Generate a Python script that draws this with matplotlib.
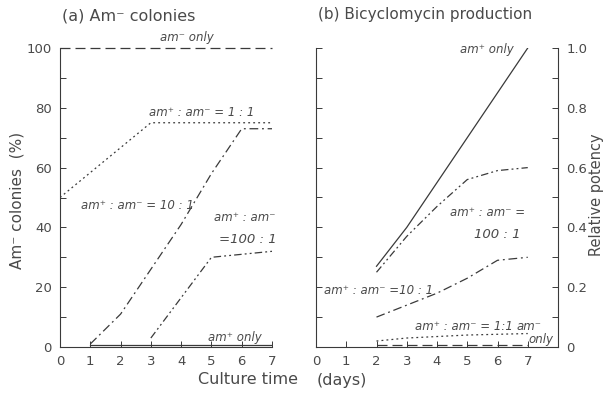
import matplotlib
matplotlib.use("Agg")
import matplotlib.pyplot as plt
from matplotlib.ticker import MultipleLocator

plt.rcParams['font.family'] = ['DejaVu Sans']

# ---- Data: panel (a) Am- colonies (%) ----
a_amminus_x = [0, 7]
a_amminus_y = [100, 100]
a_r1_x = [0, 3, 7]
a_r1_y = [50, 75, 75]
a_r10_x = [1, 2, 3, 4, 5, 6, 7]
a_r10_y = [1, 11, 26, 41, 58, 73, 73]
a_r100_x = [3, 5, 7]
a_r100_y = [3, 30, 32]
a_amplus_x = [1, 7]
a_amplus_y = [0.8, 0.8]

# ---- Data: panel (b) relative potency ----
b_amplus_x = [2, 3, 4, 5, 6, 7]
b_amplus_y = [0.27, 0.40, 0.55, 0.70, 0.85, 1.00]
b_r100_x = [2, 3, 4, 5, 6, 7]
b_r100_y = [0.25, 0.37, 0.47, 0.56, 0.59, 0.60]
b_r10_x = [2, 3, 4, 5, 6, 7]
b_r10_y = [0.10, 0.14, 0.18, 0.23, 0.29, 0.30]
b_r1_x = [2, 3, 5, 7]
b_r1_y = [0.02, 0.03, 0.04, 0.045]
b_amminus_x = [2, 7]
b_amminus_y = [0.006, 0.006]

x_ticks = [0, 1, 2, 3, 4, 5, 6, 7]

LC = '#3a3a3a'
TC = '#4a4a4a'
LW = 0.9
ls_amminus = (0, (8, 4))
ls_r1 = (0, (1.5, 2.5))
ls_r10 = (0, (7, 3, 1.5, 3))
ls_r100 = (0, (6, 2.5, 1.5, 2.5, 1.5, 2.5))

AFS = 8.5   # annotation font size
TFS = 9.5   # tick font size

fig = plt.figure(figsize=(6.06, 3.93), dpi=100)
W, H = 606, 393

def px_axes(x0, x1, y0, y1):
    return fig.add_axes([x0 / W, 1 - y1 / H, (x1 - x0) / W, (y1 - y0) / H])

def ftext(x, y, s, **kw):
    kw.setdefault('color', TC)
    kw.setdefault('ha', 'center')
    kw.setdefault('va', 'center')
    fig.text(x / W, 1 - y / H, s, **kw)

# ---------------- Panel (a) ----------------
axa = px_axes(60, 272, 48, 347)
axa.set_xlim(0, 7)
axa.set_ylim(0, 100)
axa.plot(a_amminus_x, a_amminus_y, color=LC, lw=LW, ls=ls_amminus, clip_on=False)
axa.plot(a_r1_x, a_r1_y, color=LC, lw=LW, ls=ls_r1)
axa.plot(a_r10_x, a_r10_y, color=LC, lw=LW, ls=ls_r10)
axa.plot(a_r100_x, a_r100_y, color=LC, lw=LW, ls=ls_r100)
axa.plot(a_amplus_x, a_amplus_y, color=LC, lw=LW)
for s in ['top', 'right']:
    axa.spines[s].set_visible(False)
for s in ['left', 'bottom']:
    axa.spines[s].set_color(LC)
    axa.spines[s].set_linewidth(0.8)
axa.set_xticks(x_ticks)
axa.yaxis.set_major_locator(MultipleLocator(20))
axa.yaxis.set_minor_locator(MultipleLocator(10))
axa.tick_params(direction='in', colors=LC, labelcolor=TC, labelsize=TFS, length=4, width=0.7)
axa.tick_params(which='minor', direction='in', length=4, width=0.7, colors=LC)
axa.tick_params(axis='x', pad=6)
axa.tick_params(axis='y', pad=6)

ftext(17, 200, 'Am⁻ colonies  (%)', fontsize=11, rotation=90)
ftext(62, 16, '(a) Am⁻ colonies', fontsize=11.5, ha='left')
ftext(187, 38, 'am⁻ only', fontsize=AFS, style='italic')
ftext(202, 113, 'am⁺ : am⁻ = 1 : 1', fontsize=AFS, style='italic')
ftext(137, 205, 'am⁺ : am⁻ = 10 : 1', fontsize=AFS, style='italic')
ftext(245, 218, 'am⁺ : am⁻', fontsize=AFS, style='italic')
ftext(248, 239, '=100 : 1', fontsize=9.5, style='italic')
ftext(235, 337, 'am⁺ only', fontsize=AFS, style='italic')

# ---------------- Panel (b) ----------------
axb = px_axes(316, 558, 48, 347)
axb.set_xlim(0, 8)
axb.set_ylim(0, 1.0)
axb.plot(b_amplus_x, b_amplus_y, color=LC, lw=LW)
axb.plot(b_r100_x, b_r100_y, color=LC, lw=LW, ls=ls_r100)
axb.plot(b_r10_x, b_r10_y, color=LC, lw=LW, ls=ls_r10)
axb.plot(b_r1_x, b_r1_y, color=LC, lw=LW, ls=ls_r1)
axb.plot(b_amminus_x, b_amminus_y, color=LC, lw=LW, ls=ls_amminus)
axb.spines['top'].set_visible(False)
for s in ['left', 'bottom', 'right']:
    axb.spines[s].set_color(LC)
    axb.spines[s].set_linewidth(0.8)
axb.set_xticks(x_ticks)
axb.yaxis.set_major_locator(MultipleLocator(0.2))
axb.yaxis.set_minor_locator(MultipleLocator(0.1))
axb.yaxis.set_major_formatter(plt.FuncFormatter(lambda v, p: '0' if abs(v) < 1e-9 else f'{v:.1f}'))
axb.tick_params(direction='in', colors=LC, labelcolor=TC, labelsize=TFS, length=4, width=0.7,
                left=True, right=True, labelleft=False, labelright=True)
axb.tick_params(which='minor', direction='in', length=4, width=0.7, colors=LC, left=True, right=True)
axb.tick_params(axis='x', pad=6)
axb.tick_params(axis='y', pad=6)

ftext(596, 195, 'Relative potency', fontsize=10.5, rotation=90)
ftext(318, 14, '(b) Bicyclomycin production', fontsize=11, ha='left')
ftext(487, 49, 'am⁺ only', fontsize=AFS, style='italic')
ftext(488, 213, 'am⁺ : am⁻ =', fontsize=AFS, style='italic')
ftext(497, 234, '100 : 1', fontsize=9.5, style='italic')
ftext(379, 290, 'am⁺ : am⁻ =10 : 1', fontsize=AFS, style='italic')
ftext(464, 326, 'am⁺ : am⁻ = 1:1', fontsize=AFS, style='italic')
ftext(529, 326, 'am⁻', fontsize=AFS, style='italic')
ftext(541, 340, 'only', fontsize=AFS, style='italic')

# shared x label
ftext(248, 380, 'Culture time', fontsize=11.5)
ftext(342, 380, '(days)', fontsize=11.5)

fig.savefig('out.png', dpi=100, facecolor='white')
